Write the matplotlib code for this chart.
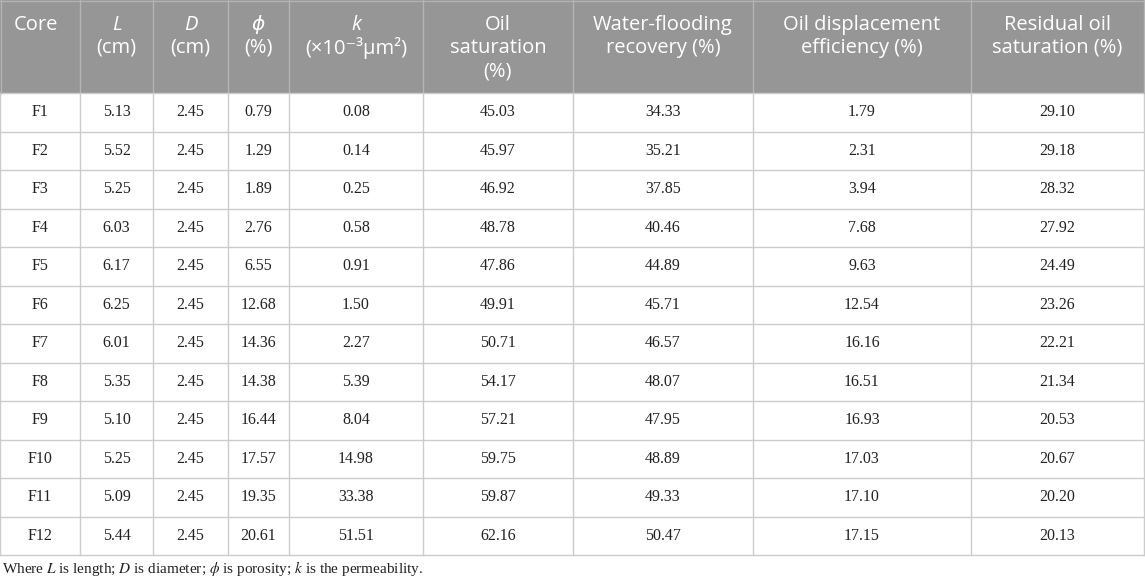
import matplotlib.pyplot as plt
from matplotlib.patches import Rectangle

plt.rcParams['mathtext.fontset'] = 'stix'

# table data
cores = ['F1', 'F2', 'F3', 'F4', 'F5', 'F6', 'F7', 'F8', 'F9', 'F10', 'F11', 'F12']
length = ['5.13', '5.52', '5.25', '6.03', '6.17', '6.25', '6.01', '5.35', '5.10', '5.25', '5.09', '5.44']
diameter = ['2.45'] * 12
porosity = ['0.79', '1.29', '1.89', '2.76', '6.55', '12.68', '14.36', '14.38', '16.44', '17.57', '19.35', '20.61']
perm = ['0.08', '0.14', '0.25', '0.58', '0.91', '1.50', '2.27', '5.39', '8.04', '14.98', '33.38', '51.51']
oil_sat = ['45.03', '45.97', '46.92', '48.78', '47.86', '49.91', '50.71', '54.17', '57.21', '59.75', '59.87', '62.16']
wf_recovery = ['34.33', '35.21', '37.85', '40.46', '44.89', '45.71', '46.57', '48.07', '47.95', '48.89', '49.33', '50.47']
displacement = ['1.79', '2.31', '3.94', '7.68', '9.63', '12.54', '16.16', '16.51', '16.93', '17.03', '17.10', '17.15']
residual = ['29.10', '29.18', '28.32', '27.92', '24.49', '23.26', '22.21', '21.34', '20.53', '20.67', '20.20', '20.13']

# header lines, first line italic for symbol columns
headers = [
    (['Core'], False),
    (['L', '(cm)'], True),
    (['D', '(cm)'], True),
    (['ϕ', '(%)'], True),
    (['k', '(×10⁻³μm²)'], True),
    (['Oil', 'saturation', '(%)'], False),
    (['Water-flooding', 'recovery (%)'], False),
    (['Oil displacement', 'efficiency (%)'], False),
    (['Residual oil', 'saturation (%)'], False),
]
footnote = 'Where $L$ is length; $D$ is diameter; $\\phi$ is porosity; $k$ is the permeability.'

columns = [cores, length, diameter, porosity, perm, oil_sat, wf_recovery, displacement, residual]

# layout in pixels
edges = [0, 80, 153, 228, 289, 423, 573, 753, 971, 1144]
head_h = 93
row_h = (555 - head_h) / len(cores)

fig = plt.figure(figsize=(11.45, 5.8), dpi=100)
ax = fig.add_axes([0, 0, 1, 1])
ax.set_xlim(0, 1145)
ax.set_ylim(580, 0)
ax.axis('off')

hfont = ['Open Sans', 'DejaVu Sans']
bfont = ['Liberation Serif', 'DejaVu Serif']

# header background
ax.add_patch(Rectangle((0, 0), edges[-1], head_h, facecolor='#969696', edgecolor='none'))
for x in edges[1:-1]:
    ax.plot([x, x], [0, head_h], color='#b4b4b4', lw=1)

for i, (lines, ital) in enumerate(headers):
    cx = (edges[i] + edges[i + 1]) / 2
    for j, line in enumerate(lines):
        y = 25 + 23 * j
        style = 'italic' if (ital and j == 0) else 'normal'
        if i == 0:
            ax.text(14, y, line, ha='left', va='center', color='white', fontsize=14.5, family=hfont)
        else:
            ax.text(cx, y, line, ha='center', va='center', color='white', fontsize=14.5,
                    family=hfont, style=style)

# body grid
for r in range(len(cores) + 1):
    y = head_h + r * row_h
    ax.plot([0, edges[-1]], [y, y], color='#cccccc', lw=1)
for x in edges:
    ax.plot([x, x], [head_h, 555], color='#cccccc', lw=1)
ax.plot([0, edges[-1]], [0.5, 0.5], color='#b4b4b4', lw=1)
ax.plot([0.5, 0.5], [0, head_h], color='#b4b4b4', lw=1)
ax.plot([edges[-1], edges[-1]], [0, head_h], color='#b4b4b4', lw=1)

for i, col in enumerate(columns):
    cx = (edges[i] + edges[i + 1]) / 2
    for r, val in enumerate(col):
        y = head_h + (r + 0.5) * row_h
        ax.text(cx, y, val, ha='center', va='center', color='#222222', fontsize=11.5, family=bfont)

ax.text(2, 568, footnote, ha='left', va='center', color='#222222', fontsize=11, family=bfont)

fig.savefig('out.png', dpi=100)
